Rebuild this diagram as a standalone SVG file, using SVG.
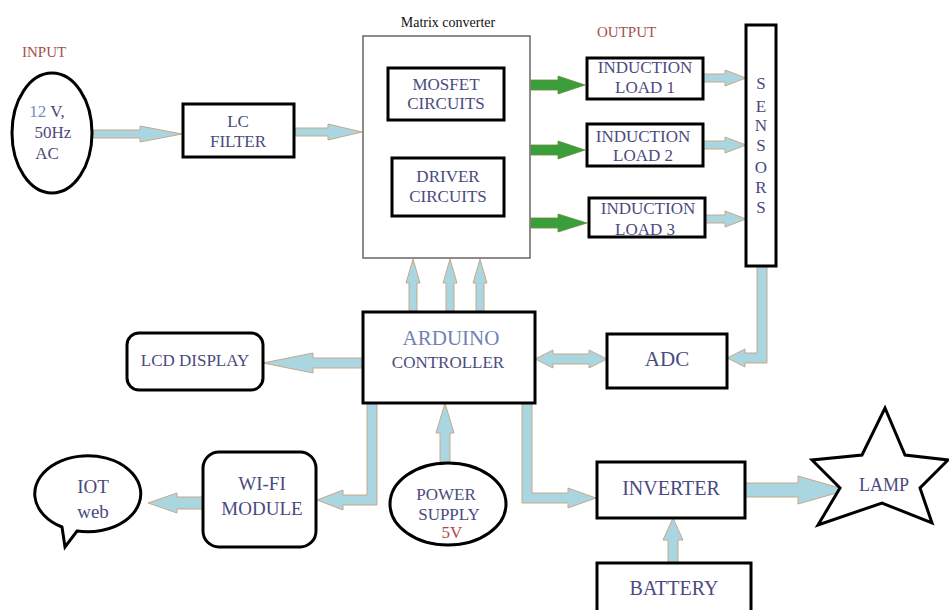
<svg xmlns="http://www.w3.org/2000/svg" width="949" height="610" viewBox="0 0 949 610">
<style>
.bx{fill:#fff;stroke:#000;stroke-width:3}
.thin{fill:#fff;stroke:#666;stroke-width:1.5}
.t{font-family:'Liberation Serif','DejaVu Serif','Times New Roman',serif;font-size:17px;fill:#4a4a7e;text-anchor:middle}
.lbl{font-family:'Liberation Serif','DejaVu Serif','Times New Roman',serif;font-size:15px;fill:#a5504a}
.arr{fill:#a9d6e0;stroke:#c9a888;stroke-width:1}
.garr{fill:#3a9e3a;stroke:#6a8a3a;stroke-width:0.8}
</style>
<rect width="949" height="610" fill="#fff"/>
<text class="lbl" x="22" y="57">INPUT</text>
<text class="lbl" x="597" y="37">OUTPUT</text>

<g id="connectors">
<polygon class="arr" points="93,130 140,130 140,126 182,134 140,142 140,138 93,138"/>
<polygon class="arr" points="295,128 328,128 328,124 362,132 328,140 328,136 295,136"/>
<polygon class="arr" points="413,158 413,134 410,134 417,121 424,134 421,134 421,158"/>
<polygon class="arr" points="442,158 442,134 439,134 446,121 453,134 450,134 450,158"/>
<polygon class="arr" points="479,158 479,134 476,134 483,121 490,134 487,134 487,158"/>
<polygon class="garr" points="531,80 558,80 558,76 585,85 558,94 558,90 531,90"/>
<polygon class="garr" points="531,145 558,145 558,141 585,150 558,159 558,155 531,155"/>
<polygon class="garr" points="531,218 558,218 558,214 587,223 558,232 558,228 531,228"/>
<polygon class="arr" points="703,74 725,74 725,70 746,78 725,86 725,82 703,82"/>
<polygon class="arr" points="703,141 725,141 725,137 746,145 725,153 725,149 703,149"/>
<polygon class="arr" points="705,215 725,215 725,211 746,219 725,227 725,223 705,223"/>
<polygon class="arr" points="409,311 409,283 406,283 413,259 420,283 417,283 417,311"/>
<polygon class="arr" points="446,311 446,283 443,283 450,259 457,283 454,283 454,311"/>
<polygon class="arr" points="476,311 476,283 473,283 480,259 487,283 484,283 484,311"/>
<polygon class="arr" points="363,358 313,358 313,353 263,363 313,373 313,368 363,368"/>
<polygon class="arr" points="535,359 553,350 553,354 589,354 589,350 607,359 589,368 589,364 553,364 553,368"/>
<polygon class="arr" points="767,266 767,363 745,363 745,367 727,358 745,349 745,353 757,353 757,266"/>
<polygon class="arr" points="367,403 377,403 377,505 343,505 343,510 317,500 343,490 343,495 367,495"/>
<polygon class="arr" points="440,463 440,433 436,433 445,403 454,433 450,433 450,463"/>
<polygon class="arr" points="203,497 177,497 177,493 148,503 177,513 177,509 203,509"/>
<polygon class="arr" points="522,403 532,403 532,493 568,493 568,488 596,498 568,508 568,503 522,503"/>
<polygon class="arr" points="745,483 798,483 798,476 847,490 798,504 798,497 745,497"/>
<polygon class="arr" points="668,563 668,540 663,540 673,518 683,540 678,540 678,563"/>
</g>

<g id="input">
<ellipse class="bx" cx="52" cy="133" rx="40" ry="60"/>
<text class="t" x="47" y="117"><tspan fill="#6f8fc4">12</tspan> V,</text>
<text class="t" x="53" y="138">50Hz</text>
<text class="t" x="47" y="159">AC</text>
</g>
<g id="lcfilter">
<rect class="bx" x="183" y="104" width="111" height="53"/>
<text class="t" x="238" y="127">LC</text>
<text class="t" x="238" y="147">FILTER</text>
</g>
<g id="matrix">
<rect class="thin" x="363" y="36" width="167" height="222"/>
<text x="448" y="27" font-family="'Liberation Serif','DejaVu Serif',serif" font-size="14" fill="#111" text-anchor="middle">Matrix converter</text>
</g>
<g id="mosfet">
<rect class="bx" x="388" y="68" width="116" height="52"/>
<text class="t" x="446" y="90">MOSFET</text>
<text class="t" x="446" y="109">CIRCUITS</text>
</g>
<g id="driver">
<rect class="bx" x="392" y="158" width="112" height="58"/>
<text class="t" x="448" y="182">DRIVER</text>
<text class="t" x="448" y="202">CIRCUITS</text>
</g>
<g id="load1">
<rect class="bx" x="587" y="58" width="116" height="41"/>
<text class="t" x="645" y="73">INDUCTION</text>
<text class="t" x="645" y="93">LOAD 1</text>
</g>
<g id="load2">
<rect class="bx" x="587" y="124" width="116" height="42"/>
<text class="t" x="643" y="142">INDUCTION</text>
<text class="t" x="643" y="161">LOAD 2</text>
</g>
<g id="load3">
<rect class="bx" x="589" y="198" width="116" height="39"/>
<text class="t" x="648" y="214">INDUCTION</text>
<text class="t" x="645" y="235">LOAD 3</text>
</g>
<g id="sensors">
<rect class="bx" x="746" y="25" width="30" height="241"/>
<text class="t" x="761" y="89">S</text>
<text class="t" x="761" y="112">E</text>
<text class="t" x="761" y="131">N</text>
<text class="t" x="761" y="151">S</text>
<text class="t" x="761" y="173">O</text>
<text class="t" x="761" y="193">R</text>
<text class="t" x="761" y="213">S</text>
</g>
<g id="arduino">
<rect class="bx" x="363" y="312" width="172" height="91"/>
<text class="t" x="451" y="345" font-size="21" fill="#7282b4" style="font-size:21px;fill:#7282b4">ARDUINO</text>
<text class="t" x="448" y="368">CONTROLLER</text>
</g>
<g id="lcd">
<rect class="bx" x="127" y="333" width="136" height="57" rx="12"/>
<text class="t" x="195" y="366">LCD DISPLAY</text>
</g>
<g id="adc">
<rect class="bx" x="607" y="334" width="120" height="54"/>
<text class="t" x="667" y="366" style="font-size:21px">ADC</text>
</g>
<g id="iot">
<path class="bx" d="M77,531 A53,38 0 1,0 62,527 L65,547 Z"/>
<text class="t" x="93" y="493" style="font-size:19px">IOT</text>
<text class="t" x="93" y="518" style="font-size:19px">web</text>
</g>
<g id="wifi">
<rect class="bx" x="203" y="452" width="113" height="95" rx="16"/>
<text class="t" x="262" y="490" style="font-size:19px">WI-FI</text>
<text class="t" x="262" y="515" style="font-size:19px">MODULE</text>
</g>
<g id="power">
<ellipse class="bx" cx="448" cy="504" rx="58" ry="41"/>
<text class="t" x="446" y="500">POWER</text>
<text class="t" x="449" y="520">SUPPLY</text>
<text class="t" x="452" y="538" style="fill:#b04a4a">5V</text>
</g>
<g id="inverter">
<rect class="bx" x="597" y="462" width="148" height="56"/>
<text class="t" x="671" y="495" style="font-size:20px">INVERTER</text>
</g>
<g id="lamp">
<polygon class="bx" points="885,408 905,455 948,460 920,488 932,523 882,503 818,525 840,488 812,460 862,455"/>
<text class="t" x="884" y="491" style="font-size:18px">LAMP</text>
</g>
<g id="battery">
<rect class="bx" x="597" y="563" width="154" height="60"/>
<text class="t" x="674" y="595" style="font-size:20px">BATTERY</text>
</g>
</svg>
